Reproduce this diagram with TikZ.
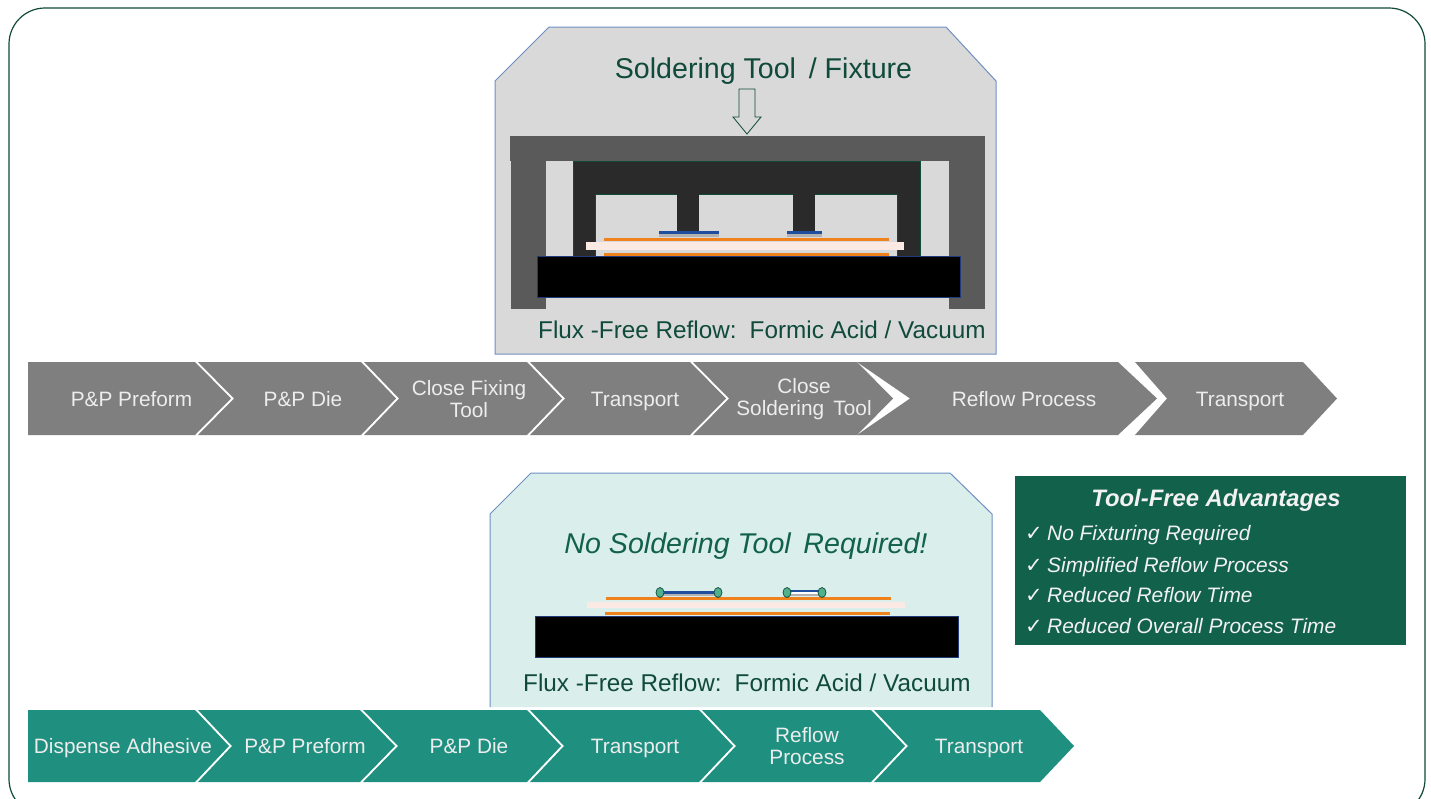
\documentclass[tikz,border=0pt]{standalone}
\usepackage{fontspec}
\setmainfont{Liberation Sans}
\newfontfamily\checkfont{DejaVu Sans}
\definecolor{framegreen}{HTML}{0F4A3A}
\definecolor{boxgreen}{HTML}{12614A}
\definecolor{stepgray}{HTML}{7F7F7F}
\definecolor{stepteal}{HTML}{1F9080}
\definecolor{panelgray}{HTML}{D9D9D9}
\definecolor{panelteal}{HTML}{DAEEEC}
\definecolor{panelline}{HTML}{6F8FC4}
\definecolor{toolouter}{HTML}{5A5A5A}
\definecolor{toolinner}{HTML}{2A2A2A}
\definecolor{dieblue}{HTML}{1F4E9E}
\definecolor{baseline}{HTML}{1F3A7A}
\definecolor{layerorange}{HTML}{F0821E}
\definecolor{layerpink}{HTML}{FBE9E3}
\definecolor{gluegreen}{HTML}{4FB08C}
\tikzset{
	steptext/.style={text=white!93!black, font=\fontsize{20.8}{22}\selectfont, align=center, inner sep=0pt},
	stepline/.style={steptext, anchor=base},
	paneltext/.style={text=framegreen, font=\fontsize{24.3}{28}\selectfont, anchor=base west, inner sep=0pt},
	itemtext/.style={text=white!95!black, font=\fontsize{20.9}{24}\selectfont\itshape, anchor=base west, inner sep=0pt},
	itemcheck/.style={text=white!95!black, font=\checkfont\fontsize{21}{24}\selectfont, anchor=base, inner sep=0pt},
	base/.style={fill=black, draw=baseline, line width=1pt},
}
\begin{document}
\begin{tikzpicture}[x=1pt, y=-1pt]
	\useasboundingbox (0,0) rectangle (1431,798);
	\fill[white] (0,0) rectangle (1431,798);
	
	%outer frame
	\begin{scope}
		\clip (0,0) rectangle (1431,798);
		\draw[framegreen, line width=1.2pt, rounded corners=36pt] (9,8) rectangle (1425,815);
	\end{scope}
	
	%upper panel
	\filldraw[fill=panelgray, draw=panelline, line width=1pt] (495,354) -- (495,81) -- (549,27) -- (946,27) -- (996,81) -- (996,354) -- cycle;
	\node (title) at (763.5,78) [text=framegreen, anchor=base, font=\fontsize{28.6}{32}\selectfont, inner sep=0pt]{Soldering Tool\, / Fixture};
	\draw[framegreen, fill=panelgray, line width=0.8pt] (739,89) -- (755,89) -- (755,117) -- (761,117) -- (747,134) -- (733,117) -- (739,117) -- cycle;
	
	%soldering tool
	\fill[toolouter] (510,136) rectangle (985,161);
	\fill[toolouter] (511,161) rectangle (546,309);
	\fill[toolouter] (949,161) rectangle (985,309);
	\filldraw[fill=toolinner, draw=framegreen, line width=0.5pt] (573,256) -- (573,161.5) -- (920,161.5) -- (920,256) -- (897,256) -- (897,194) -- (595,194) -- (595,256) -- cycle;
	\fill[toolinner] (677,194) rectangle (699,235);
	\fill[toolinner] (793,194) rectangle (815,235);
	
	%die and substrate, upper
	\fill[gray!60] (659,234) rectangle (719,236.5);
	\fill[gray!60] (787,234) rectangle (822,236.5);
	\fill[dieblue] (659,231) rectangle (719,234);
	\fill[dieblue] (787,231) rectangle (822,234);
	\fill[layerorange] (604,238) rectangle (889,241);
	\fill[layerorange] (604,253) rectangle (889,256);
	\fill[layerpink] (586,242) rectangle (904,250);
	\filldraw[base] (537,256) rectangle (960,297);
	\node (fluxa) at (538,338) [paneltext]{Flux -Free Reflow:\, Formic Acid / Vacuum};
	
	%lower panel
	\fill[panelteal] (490,707) -- (490,514) -- (531,473) -- (950,473) -- (992,514) -- (992,707) -- cycle;
	\draw[panelline, line width=1pt] (490,707) -- (490,514) -- (531,473) -- (950,473) -- (992,514) -- (992,707);
	\node (noTool) at (746,553) [text=boxgreen, anchor=base, font=\fontsize{28.6}{32}\selectfont\itshape, inner sep=0pt]{No Soldering Tool\, Required!};
	
	%die and substrate, lower
	\fill[gray!60] (660,593) rectangle (718,595.5);
	\fill[white] (787,592) rectangle (822,594);
	\fill[gray!60] (787,594) rectangle (822,595.5);
	\fill[dieblue] (660,590.5) rectangle (718,593.5);
	\fill[dieblue] (787,589.5) rectangle (822,591.5);
	\fill[layerorange] (606,596.5) rectangle (891,599.5);
	\fill[layerorange] (605,611.5) rectangle (890,614.5);
	\fill[layerpink] (587,602) rectangle (905,608);
	\foreach \x in {660, 718, 787, 822}{
		\filldraw[fill=gluegreen, draw=framegreen, line width=0.7pt] (\x,592.5) ellipse (4pt and 5pt);
	}
	\filldraw[base] (535.5,616) rectangle (958,657);
	\node (fluxb) at (523,691) [paneltext]{Flux -Free Reflow:\, Formic Acid / Vacuum};
	
	%upper process steps
	\foreach \a/\b/\c/\d in {28/28/195/231, 198/234/361/396, 364/399/527/562, 530/565/690/726, 693/729/857/893, 857/910/1118/1157, 1135/1167/1303/1337}{
		\fill[stepgray] (\a,362) -- (\c,362) -- (\d,398.5) -- (\c,435) -- (\a,435) -- (\b,398.5) -- cycle;
	}
	\node (upA) at (131.5,406) [stepline]{P\&P Preform};
	\node (upB) at (303,406) [stepline]{P\&P Die};
	\node (upC) at (469,399) [steptext]{Close Fixing\\Tool};
	\node (upD) at (635,406) [stepline]{Transport};
	\node (upE) at (804,399) [steptext]{Close\\Soldering\, Tool};
	\node (upF) at (1024,406) [stepline]{Reflow Process};
	\node (upG) at (1240,406) [stepline]{Transport};
	
	%lower process steps
	\foreach \a/\b/\c/\d in {28/28/195/229, 198/232/360/395, 363/398/527/561, 530/564/699/733, 702/736/871/905, 874/908/1040/1074}{
		\fill[stepteal] (\a,710) -- (\c,710) -- (\d,746) -- (\c,782) -- (\a,782) -- (\b,746) -- cycle;
	}
	\node (lowA) at (123,753) [stepline]{Dispense Adhesive};
	\node (lowB) at (305,753) [stepline]{P\&P Preform};
	\node (lowC) at (469,753) [stepline]{P\&P Die};
	\node (lowD) at (635,753) [stepline]{Transport};
	\node (lowE) at (807,746) [steptext]{Reflow\\Process};
	\node (lowF) at (979,753) [stepline]{Transport};
	
	%advantages box
	\fill[boxgreen] (1015,476) rectangle (1406,645);
	\node (advTitle) at (1216,506) [text=white!95!black, anchor=base, font=\fontsize{23.8}{26}\selectfont\bfseries\itshape, inner sep=0pt]{Tool-Free Advantages};
	\foreach \y/\t in {540/No Fixturing Required, 572/Simplified Reflow Process, 602/Reduced Reflow Time, 633/Reduced Overall Process Time}{
		\node at (1034,\y) [itemcheck]{✓};
		\node at (1047,\y) [itemtext]{\t};
	}
\end{tikzpicture}
\end{document}
